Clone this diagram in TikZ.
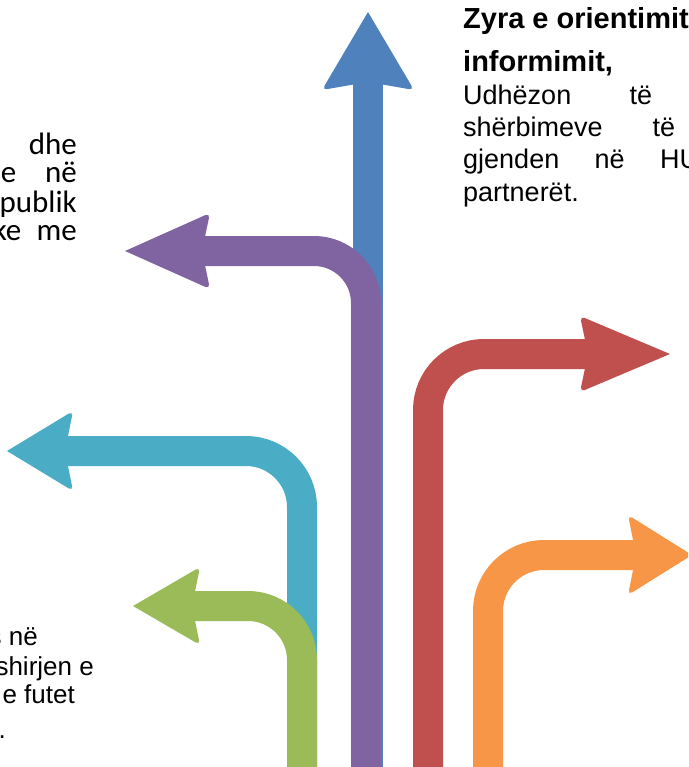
\documentclass[tikz,border=0pt]{standalone}
\usepackage{fontspec}
\setmainfont{Liberation Sans}
\newfontfamily\leftfont{Carlito}

\definecolor{bluearrow}{HTML}{4F81BD}
\definecolor{purplearrow}{HTML}{8064A2}
\definecolor{redarrow}{HTML}{C0504D}
\definecolor{orangearrow}{HTML}{F79646}
\definecolor{cyanarrow}{HTML}{4BACC6}
\definecolor{greenarrow}{HTML}{9BBB59}

\tikzset{
  shaft/.style={line width=30pt},
  pics/arrowhead/.style 2 args={code={
    \fill (0,0) [rounded corners=5pt] -- (-#1,-#2) -- (-#1+8,0)
      -- (-#1,#2) [sharp corners] -- cycle;
  }},
  bodytext/.style={anchor=base west,inner sep=0,
    font=\fontsize{27}{32}\selectfont},
  headtext/.style={bodytext,font=\bfseries\fontsize{29}{34}\selectfont},
  lefttext/.style={anchor=base east,inner sep=0,
    font=\leftfont\fontsize{31}{28}\selectfont},
  lowtext/.style={anchor=base east,inner sep=0,
    font=\fontsize{26}{30}\selectfont},
}

\begin{document}
\begin{tikzpicture}[x=1pt,y=-1pt]
      % The slide is cut on every side.
      \path[use as bounding box] (0,0) rectangle (688,767);
      \clip (0,0) rectangle (688,767);

      % Straight up.
      \coordinate (bluefoot) at (368,780);
      \coordinate (bluetip) at (368,12);
      \draw[shaft,bluearrow,shorten >=60pt] (bluefoot) -- (bluetip);
      \pic[color=bluearrow,rotate=90] at (bluetip) {arrowhead={78}{46}};

      % Up, then left.
      \coordinate (purplefoot) at (366,780);
      \coordinate (purpletip) at (125,251);
      \draw[shaft,purplearrow,rounded corners=52pt,shorten >=70pt]
        (purplefoot) |- (purpletip);
      \pic[color=purplearrow,rotate=180] at (purpletip) {arrowhead={85}{38}};

      % Up, then right.
      \coordinate (redfoot) at (428,780);
      \coordinate (redtip) at (670,354);
      \draw[shaft,redarrow,rounded corners=56pt,shorten >=75pt]
        (redfoot) |- (redtip);
      \pic[color=redarrow] at (redtip) {arrowhead={90}{38}};

      \coordinate (orangefoot) at (488,780);
      \coordinate (orangetip) at (692,555);
      \draw[shaft,orangearrow,rounded corners=56pt,shorten >=50pt]
        (orangefoot) |- (orangetip);
      \pic[color=orangearrow] at (orangetip) {arrowhead={64}{40}};

      % The two on the left share one stem.
      \coordinate (cyanfoot) at (302,780);
      \coordinate (cyantip) at (7,451);
      \draw[shaft,cyanarrow,rounded corners=56pt,shorten >=52pt]
        (cyanfoot) |- (cyantip);
      \pic[color=cyanarrow,rotate=180] at (cyantip) {arrowhead={66}{40}};

      \coordinate (greenfoot) at (302,780);
      \coordinate (greentip) at (133,606);
      \draw[shaft,greenarrow,rounded corners=54pt,shorten >=52pt]
        (greenfoot) |- (greentip);
      \pic[color=greenarrow,rotate=180] at (greentip) {arrowhead={67}{39}};

      % Text, top right.
      \node[headtext] (infohead) at (463,29) {Zyra e orientimit};
      \node[headtext] (infoheadb) at (463,72) {informimit,};
      \node[bodytext] (infoa) at (463,105) {\makebox[189pt][s]{Udhëzon të}};
      \node[bodytext] (infob) at (463,137) {\makebox[212pt][s]{shërbimeve të}};
      \node[bodytext] (infoc) at (463,169) {\makebox[236pt][s]{gjenden në HU}};
      \node[bodytext] (infod) at (463,201) {partnerët.};

      % Text, top left.
      \node[lefttext] (lefta) at (77,155) {dhe};
      \node[lefttext] (leftb) at (77,183) {\makebox[76pt][s]{e në}};
      \node[lefttext] (leftc) at (77,212) {publik};
      \node[lefttext] (leftd) at (77,240) {\makebox[84pt][s]{ke me}};

      % Text, bottom left.
      \node[lowtext] (lowa) at (38,645) {s në};
      \node[lowtext] (lowb) at (94,675) {shirjen e};
      \node[lowtext] (lowc) at (75,703) {e futet};
      \node[lowtext] (lowd) at (6,738) {.};

    \end{tikzpicture}
\end{document}
